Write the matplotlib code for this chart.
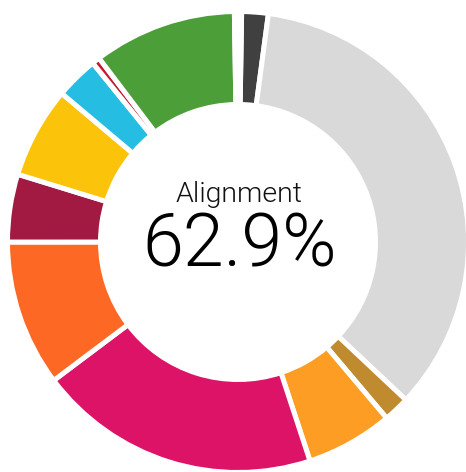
import matplotlib
matplotlib.use('Agg')
import matplotlib.pyplot as plt

# slices clockwise from 12 o'clock, percent
labels = ['Other', 'Not aligned', 'SDG 12', 'SDG 11', 'SDG 10', 'SDG 9', 'SDG 8',
          'SDG 7', 'SDG 6', 'SDG 4', 'SDG 3', 'gap']
values = [1.86, 34.9, 1.83, 6.1, 19.8, 10.25, 4.75, 6.4, 3.0, 0.55, 10.05, 0.5]
colors = ['#404040', '#d9d9d9', '#bf8b2e', '#fd9d24', '#dd1367', '#fd6925', '#a21942',
          '#fcc30b', '#26bde2', '#c5192d', '#4c9f38', '#ffffff']
title = 'Alignment'
score = '62.9%'

W, H = 466, 472
fig = plt.figure(figsize=(W / 100, H / 100), dpi=100)
ax = fig.add_axes([0, 0, 1, 1])

cx, cy = 238, H - 242
ax.pie(values, colors=colors, startangle=89.1, counterclock=False,
       center=(cx, cy), radius=230.5,
       wedgeprops=dict(width=93, edgecolor='white', linewidth=3.6))
ax.set_xlim(0, W)
ax.set_ylim(0, H)
ax.set_aspect('equal')
ax.axis('off')

ax.text(cx + 1, H - 195, title, ha='center', va='center', fontsize=20.5,
        family='Roboto', fontweight=300, color='#111111')
ax.text(cx + 2, H - 246, score, ha='center', va='center', fontsize=53,
        family='Roboto', fontweight=300, color='black')

fig.savefig('out.png', dpi=100, facecolor='white')
